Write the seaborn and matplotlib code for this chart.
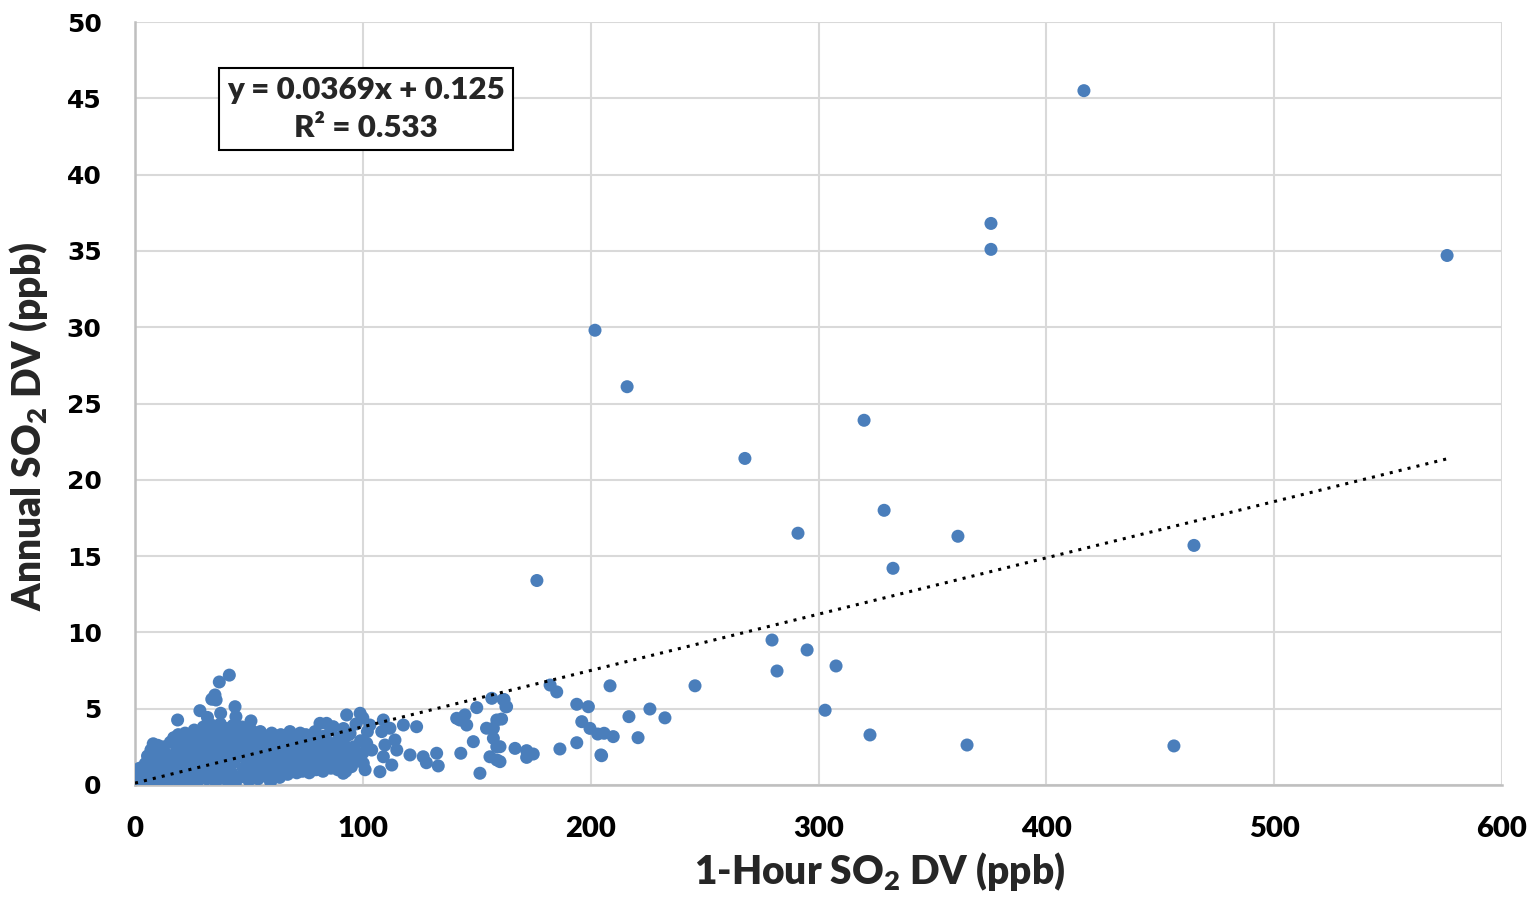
import numpy as np
import pandas as pd
import matplotlib
matplotlib.use("Agg")
import matplotlib.pyplot as plt
import seaborn as sns

# ---- data (1-hour DV vs annual DV, ppb) ----
# dense cluster near the origin
cluster_hour = [
    0.5, 1, 1.5, 2, 2.5, 3, 0.8, 2, 3,
    4, 4.5, 5, 5.5, 6, 6.5, 7, 7.5, 8, 8,
    9, 9.5, 10, 10.5, 11, 11.5, 12, 12.5, 13, 13.5, 14,
    15, 15.5, 16, 16.5, 17, 17.5, 18, 18.5, 19, 19.5, 20, 20,
    21, 21.5, 22, 22.5, 23, 23.5, 24, 24.5, 25, 25.5, 26, 26,
    27, 27.5, 28, 28.5, 29, 29.5, 30, 30.5, 31, 31.5, 32, 32,
    33, 33.5, 34, 34.5, 35, 35.5, 36, 36.5, 37, 37.5, 38, 38,
    39, 39.5, 40, 40.5, 41, 41.5, 42, 42.5, 43, 43.5, 44, 44,
    45, 45.5, 46, 46.5, 47, 47.5, 48, 48.5, 49, 49.5, 50, 50,
    51, 51.5, 52, 52.5, 53, 53.5, 54, 54.5, 55, 55.5, 56, 56,
    57, 57.5, 58, 58.5, 59, 59.5, 60, 60.5, 61, 61.5, 62, 62,
    63, 63.5, 64, 64.5, 65, 65.5, 66, 66.5, 67, 67.5, 68, 68,
    69, 69.5, 70, 70.5, 71, 71.5, 72, 72.5, 73, 73.5, 74, 74,
    75, 75.5, 76, 76.5, 77, 77.5, 78, 78.5, 79, 79.5, 80, 80,
    81, 82, 82.5, 83, 84, 84.5, 85, 86, 86,
    87.5, 88, 89, 89.5, 90, 91, 91.5, 92, 92.5,
    93.5, 94, 95, 96, 97, 98, 99, 100, 100, 101, 102,
    18.7, 28.5, 31.8, 37.6, 43.9, 44.3, 50.9, 41.4, 37.0, 35.1, 33.7, 35.6, 81.2,
]
cluster_annual = [
    0.1, 0.3, 0.6, 0.2, 0.9, 0.4, 0.05, 1.1, 0.0,
    0.7, 1.4, 0.2, 1.9, 1.0, 0.5, 2.3, 1.5, 0.1, 2.7,
    0.8, 1.8, 2.6, 0.3, 1.3, 2.2, 0.6, 2.5, 1.7, 0.1, 2.0,
    1.0, 2.8, 0.4, 1.9, 3.1, 1.3, 0.7, 2.4, 3.3, 0.2, 1.6, 2.9,
    0.9, 2.2, 3.4, 1.4, 0.3, 2.7, 1.8, 3.0, 0.6, 2.1, 3.6, 1.2,
    0.1, 2.5, 1.6, 3.2, 0.8, 2.0, 3.8, 1.3, 2.8, 0.4, 3.4, 1.9,
    2.4, 0.9, 3.9, 1.6, 2.9, 0.2, 3.5, 1.1, 2.2, 4.0, 0.6, 3.0,
    1.7, 2.6, 3.7, 0.3, 1.2, 3.2, 2.1, 0.8, 3.9, 1.5, 2.7, 0.1,
    3.4, 1.9, 0.5, 2.4, 3.8, 1.1, 2.9, 0.7, 1.6, 3.3, 2.2, 0.3,
    3.6, 1.3, 2.6, 0.9, 3.1, 1.8, 0.4, 2.3, 3.5, 1.0, 2.8, 1.6,
    0.6, 2.0, 3.2, 1.4, 2.5, 0.2, 3.4, 1.8, 0.9, 2.7, 1.3, 3.0,
    2.2, 0.5, 3.3, 1.6, 2.6, 1.0, 3.1, 2.0, 0.7, 2.9, 1.4, 3.5,
    2.4, 1.1, 3.2, 1.8, 0.8, 2.7, 1.5, 3.4, 2.1, 0.9, 2.9, 1.7,
    3.3, 1.2, 2.3, 0.8, 3.0, 1.9, 1.4, 2.6, 3.5, 1.0, 2.1, 3.0,
    1.6, 2.5, 0.9, 3.2, 1.3, 2.0, 2.8, 1.1, 3.6,
    1.7, 2.4, 1.0, 3.0, 2.0, 1.4, 3.7, 2.6, 0.9,
    1.9, 3.3, 1.2, 2.5, 4.0, 1.6, 2.9, 4.4, 2.1, 1.0, 3.5,
    4.26, 4.87, 4.43, 4.7, 5.13, 4.48, 4.2, 7.2, 6.75, 5.9, 5.62, 5.57, 4.04,
]

# sparser points between 80 and 250 ppb
mid_hour = [
    84.1, 87.0, 82.7, 89.7, 95.9, 92.9, 98.8, 103.1, 109.0, 108.3, 111.9,
    117.8, 123.6, 141.2, 144.8, 145.6, 142.6, 158.8, 157.3, 154.3, 157.3,
    158.8, 166.8, 148.5, 143.0, 155.8, 158.8, 151.4, 132.4, 133.1, 126.5,
    127.9, 120.7, 114.1, 114.9, 109.7, 109.0, 112.7, 107.5, 101.7, 103.9,
    97.3, 100.2, 91.4, 94.4, 91.4, 87.0, 85.6, 150.0, 156.6, 161.6, 163.1,
    182.2, 185.1, 162.0, 162.8, 193.9, 199.0, 160.9, 196.1, 199.7, 203.1,
    205.9, 209.9, 193.9, 186.5, 171.9, 174.8, 171.9, 204.8, 160.2, 160.2,
    208.5, 245.8, 226.0, 216.8, 232.6, 220.8,
]
mid_annual = [
    4.04, 3.82, 3.17, 3.1, 2.4, 4.59, 4.7, 3.93, 4.26, 3.5, 3.72,
    3.93, 3.82, 4.37, 4.59, 3.93, 4.26, 4.26, 3.72, 3.72, 3.06,
    2.51, 2.4, 2.84, 2.08, 1.85, 1.64, 0.77, 2.08, 1.25, 1.85,
    1.46, 1.97, 2.95, 2.29, 2.62, 1.85, 1.31, 0.87, 2.73, 2.29,
    1.85, 1.42, 0.77, 3.39, 2.73, 2.29, 1.42, 5.07, 5.68, 5.6, 5.13,
    6.55, 6.1, 5.6, 5.13, 5.29, 5.13, 4.32, 4.15, 3.71, 3.34,
    3.39, 3.17, 2.77, 2.36, 2.25, 2.03, 1.81, 1.92, 2.51, 1.53,
    6.5, 6.5, 4.98, 4.48, 4.4, 3.1,
]

# isolated high values
high_hour = [
    416.5, 375.7, 375.7, 575.9, 201.9, 216.0, 320.0, 267.7, 328.8, 291.0,
    361.2, 464.8, 332.7, 176.4, 279.6, 295.0, 281.8, 307.7, 302.9, 322.6,
    365.2, 456.0, 204.5,
]
high_annual = [
    45.5, 36.8, 35.1, 34.7, 29.8, 26.1, 23.9, 21.4, 18.0, 16.5,
    16.3, 15.7, 14.2, 13.4, 9.5, 8.85, 7.47, 7.8, 4.9, 3.28,
    2.62, 2.56, 1.97,
]

# linear trend shown on the chart
slope = 0.0369
intercept = 0.125
r_squared = 0.533

df = pd.DataFrame({
    "hour": cluster_hour + mid_hour + high_hour,
    "annual": cluster_annual + mid_annual + high_annual,
})

sns.set_theme(style="white")
plt.rcParams['font.family'] = ['DejaVu Sans']

fig = plt.figure(figsize=(15.31, 9.07), dpi=100)
ax = fig.add_axes([135 / 1531, 1 - 785 / 907, 1367 / 1531, 763 / 907])

sns.scatterplot(data=df, x="hour", y="annual", ax=ax, color="#4a7ebb",
                s=88, edgecolor="none", linewidth=0, zorder=3, legend=False)

# dotted trend line across the data range
x_line = np.array([0, df["hour"].max()])
ax.plot(x_line, slope * x_line + intercept, color="black", linestyle=(0, (1, 2.0)),
        linewidth=2.2, zorder=4)

ax.set_xlim(0, 600)
ax.set_ylim(0, 50)
ax.set_xticks(np.arange(0, 601, 100))
ax.set_yticks(np.arange(0, 51, 5))
ax.grid(True, color="#d9d9d9", linewidth=1.5, zorder=0)
ax.set_axisbelow(True)
for side in ["top", "right"]:
    ax.spines[side].set_visible(False)
for side in ["left", "bottom"]:
    ax.spines[side].set_color("#bfbfbf")
    ax.spines[side].set_linewidth(1.8)

calibri_like = ["Lato", "DejaVu Sans"]
ax.tick_params(axis="both", length=0, colors="black")
ax.tick_params(axis="y", pad=24, labelsize=18)
ax.tick_params(axis="x", pad=22, labelsize=21)
for lab in ax.get_yticklabels():
    lab.set_fontweight("bold")
for lab in ax.get_xticklabels():
    lab.set_fontweight("heavy")
    lab.set_family(calibri_like)

label_font = dict(family=calibri_like, fontweight="heavy", fontsize=28)
ax.set_xlabel(r"1-Hour SO$_\mathregular{2}$ DV (ppb)", labelpad=6, **label_font)
ax.set_ylabel(r"Annual SO$_\mathregular{2}$ DV (ppb)", labelpad=12, **label_font)
ax.xaxis.label.set_x(0.545)
ax.yaxis.label.set_y(0.47)

ax.text(101.4, 44.3, f"y = {slope}x + {intercept}\nR² = {r_squared}",
        ha="center", va="center", fontsize=22.5, fontweight="heavy",
        family=calibri_like, linespacing=1.45, zorder=5,
        bbox=dict(boxstyle="square,pad=0.25", facecolor="white",
                  edgecolor="black", linewidth=1.5))

fig.savefig("out.png", dpi=100)
